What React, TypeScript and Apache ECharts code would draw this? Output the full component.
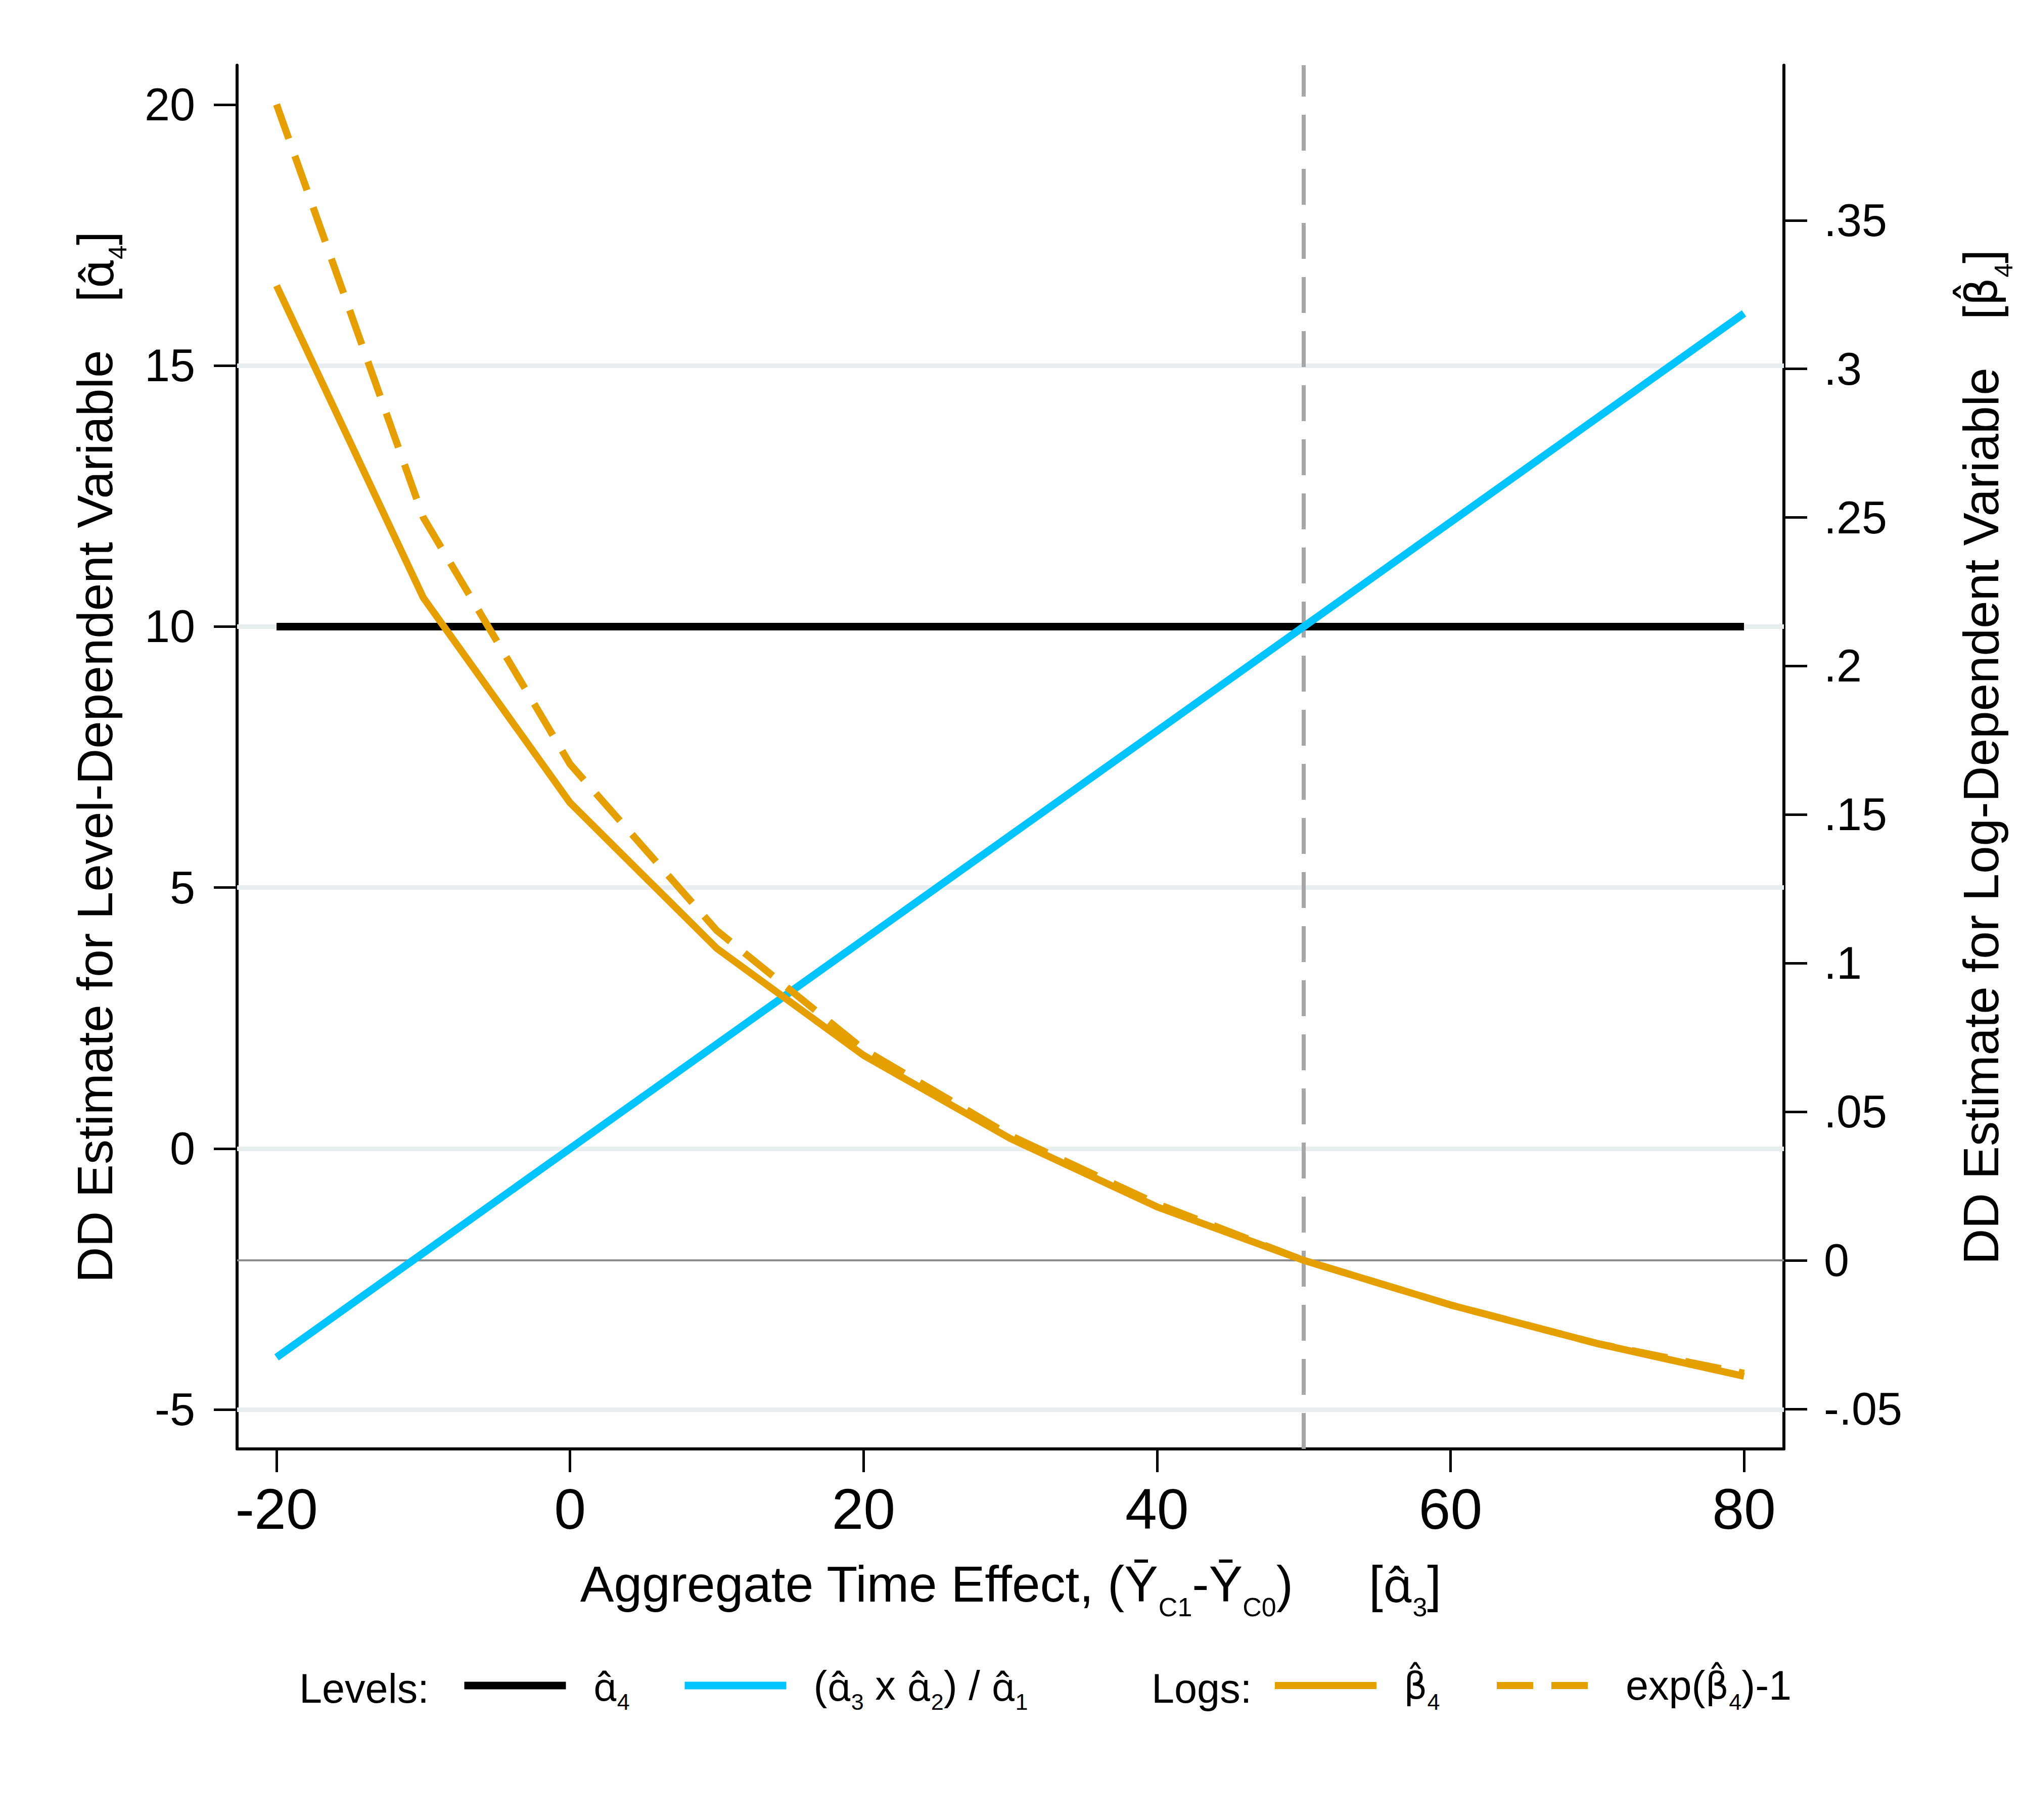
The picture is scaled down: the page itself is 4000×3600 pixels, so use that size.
import React, { useEffect, useRef } from 'react';
import * as echarts from 'echarts';

// ---------------- data ----------------
const xValues = [-20, -10, 0, 10, 20, 30, 40, 50, 60, 70, 80];
const levelsAlpha4 = [10, 10, 10, 10, 10, 10, 10, 10, 10, 10, 10];
const levelsRatio = [-4, -2, 0, 2, 4, 6, 8, 10, 12, 14, 16];
const logsBeta4 = [0.328, 0.223, 0.154, 0.105, 0.069, 0.041, 0.018, 0, -0.015, -0.028, -0.039];
const logsExpBeta4 = [0.389, 0.25, 0.167, 0.111, 0.071, 0.042, 0.019, 0, -0.015, -0.028, -0.038];

const xTicks = [-20, 0, 20, 40, 60, 80];
const leftTicks = [-5, 0, 5, 10, 15, 20];
const leftGridLines = [-5, 0, 5, 10, 15];
const rightTicks = [-0.05, 0, 0.05, 0.1, 0.15, 0.2, 0.25, 0.3, 0.35];
const referenceX = 50;
const referenceRight = 0;

const NAME_A4 = 'α̂4';
const NAME_RATIO = '(α̂3 x α̂2) / α̂1';
const NAME_B4 = 'β̂4';
const NAME_EXP = 'exp(β̂4)-1';

const FONT = '"Liberation Sans", Arial, Helvetica, sans-serif';
const HAT_FONT = '"Noto Sans", "DejaVu Sans", sans-serif';
const BETA_FONT = '"DejaVu Sans", "Noto Sans", sans-serif';
const NB = '\u00A0';
const A_HAT = 'α\u0302';
const B_HAT = 'β\u0302';

const titleRich = (main: number, sub: number, pad: number, gap: number) => ({
  m: { fontSize: main, lineHeight: 100, color: '#000', fontFamily: FONT },
  h: { fontSize: Math.round(main * 0.94), lineHeight: 100, color: '#000', fontFamily: HAT_FONT },
  d: { fontSize: Math.round(main * 0.9), lineHeight: 100, color: '#000', fontFamily: BETA_FONT },
  s: { fontSize: sub, lineHeight: 8, verticalAlign: 'top', padding: [pad, 0, 0, 0], color: '#000', fontFamily: FONT },
  g: { width: gap, fontSize: main, lineHeight: 100, fontFamily: FONT },
});

const xName = `{m|Aggregate Time Effect, (Ȳ}{s|C1}{m|-Ȳ}{s|C0}{m|)}{g|${NB}}{m|[}{h|${A_HAT}}{s|3}{m|]}`;
const leftName = `{m|DD Estimate for Level-Dependent Variable}{g|${NB}}{m|[}{h|${A_HAT}}{s|4}{m|]}`;
const rightName = `{m|DD Estimate for Log-Dependent Variable}{g|${NB}}{m|[}{d|${B_HAT}}{s|4}{m|]}`;

const legendText: Record<string, string> = {
  [NAME_A4]: `{g|${NB}}{h|${A_HAT}}{s|4}`,
  [NAME_RATIO]: `{g|${NB}}{m|(}{h|${A_HAT}}{s|3}{m| x }{h|${A_HAT}}{s|2}{m|) / }{h|${A_HAT}}{s|1}`,
  [NAME_B4]: `{g|${NB}}{d|${B_HAT}}{s|4}`,
  [NAME_EXP]: `{g|${NB}}{m|exp(}{d|${B_HAT}}{s|4}{m|)-1}`,
};

const legendRich = {
  m: { fontSize: 81, lineHeight: 100, color: '#000', fontFamily: FONT },
  h: { fontSize: 76, lineHeight: 100, color: '#000', fontFamily: HAT_FONT },
  d: { fontSize: 73, lineHeight: 100, color: '#000', fontFamily: BETA_FONT },
  s: { fontSize: 45, lineHeight: 8, verticalAlign: 'top', padding: [60, 0, 0, 0], color: '#000', fontFamily: FONT },
  g: { width: 49, fontSize: 81, lineHeight: 100, fontFamily: FONT },
};

const fmtRight = (v: number) => {
  if (Math.abs(v) < 1e-9) return '0';
  const s = Math.abs(v).toFixed(2).replace(/0+$/, '').replace(/^0/, '');
  return (v < 0 ? '-' : '') + s;
};

const pairs = (ys: number[]) => xValues.map((x, i) => [x, ys[i]]);

const makeLegend = (name: string, left: number) => ({
  data: [name],
  left,
  top: 3284,
  padding: 0,
  orient: 'horizontal',
  itemWidth: 201,
  itemHeight: 100,
  selectedMode: false,
  formatter: (n: string) => legendText[n] ?? n,
  itemStyle: { color: 'rgba(0,0,0,0)', borderWidth: 0, borderColor: 'rgba(0,0,0,0)' },
  lineStyle: { width: 'inherit', type: 'inherit', color: 'inherit' },
  textStyle: { color: '#000', fontSize: 81, lineHeight: 100, fontFamily: FONT, rich: legendRich },
});

const buildOption = () => ({
  animation: false,
  backgroundColor: '#ffffff',
  textStyle: { fontFamily: FONT },
  grid: { left: 469, right: 471, top: 129, bottom: 734, containLabel: false, outerBoundsMode: 'none' },
  legend: [
    makeLegend(NAME_A4, 911),
    makeLegend(NAME_RATIO, 1347),
    makeLegend(NAME_B4, 2515),
    makeLegend(NAME_EXP, 2954),
  ],
  graphic: [
    { type: 'text', x: 592, y: 3340, silent: true, style: { text: 'Levels:', fontSize: 81, fontFamily: FONT, fill: '#000', align: 'left', verticalAlign: 'middle' } },
    { type: 'text', x: 2278, y: 3340, silent: true, style: { text: 'Logs:', fontSize: 81, fontFamily: FONT, fill: '#000', align: 'left', verticalAlign: 'middle' } },
  ],
  xAxis: {
    type: 'value',
    min: -22.69,
    max: 82.72,
    name: xName,
    nameLocation: 'middle',
    nameGap: 217,
    nameTextStyle: { fontSize: 100, lineHeight: 100, color: '#000', fontFamily: FONT, rich: titleRich(100, 52, 70, 150) },
    axisLine: { show: true, onZero: false, lineStyle: { color: '#000', width: 6 } },
    axisTick: { show: true, length: 46, customValues: xTicks, lineStyle: { color: '#000', width: 5 } },
    axisLabel: { show: true, customValues: xTicks, fontSize: 113, margin: 62, color: '#000', fontFamily: FONT, formatter: (v: number) => String(v) },
    splitLine: { show: false },
  },
  yAxis: [
    {
      type: 'value',
      position: 'left',
      min: -5.755,
      max: 20.755,
      name: leftName,
      nameLocation: 'middle',
      nameGap: 231,
      nameTextStyle: { fontSize: 98, lineHeight: 100, color: '#000', fontFamily: FONT, rich: titleRich(98, 50, 70, 95) },
      axisLine: { show: true, onZero: false, lineStyle: { color: '#000', width: 6 } },
      axisTick: { show: true, length: 46, customValues: leftTicks, lineStyle: { color: '#000', width: 5 } },
      axisLabel: { show: true, customValues: leftTicks, fontSize: 90, margin: 83, color: '#000', fontFamily: FONT, formatter: (v: number) => String(v) },
      splitLine: { show: false },
    },
    {
      type: 'value',
      position: 'right',
      min: -0.06346,
      max: 0.4022,
      name: rightName,
      nameLocation: 'middle',
      nameGap: 340,
      nameTextStyle: { fontSize: 98, lineHeight: 100, color: '#000', fontFamily: FONT, rich: titleRich(98, 50, 70, 95) },
      axisLine: { show: true, onZero: false, lineStyle: { color: '#000', width: 6 } },
      axisTick: { show: true, length: 46, customValues: rightTicks, lineStyle: { color: '#000', width: 5 } },
      axisLabel: { show: true, customValues: rightTicks, fontSize: 90, margin: 79, color: '#000', fontFamily: FONT, formatter: fmtRight },
      splitLine: { show: false },
    },
  ],
  series: [
    {
      name: 'gridlines',
      type: 'line',
      yAxisIndex: 0,
      data: [],
      silent: true,
      z: 1,
      markLine: {
        z: 1,
        silent: true,
        symbol: ['none', 'none'],
        label: { show: false },
        lineStyle: { color: '#E9EFF1', width: 9, type: 'solid' },
        data: leftGridLines.map((v) => ({ yAxis: v })),
      },
    },
    {
      name: 'reflines',
      type: 'line',
      yAxisIndex: 1,
      data: [],
      silent: true,
      z: 1,
      markLine: {
        z: 1,
        silent: true,
        symbol: ['none', 'none'],
        label: { show: false },
        data: [
          { yAxis: referenceRight, lineStyle: { color: '#8C8C8C', width: 4, type: 'solid' } },
          { xAxis: referenceX, lineStyle: { color: '#A6A6A6', width: 8, type: [71, 36] } },
        ],
      },
    },
    {
      name: NAME_A4,
      type: 'line',
      yAxisIndex: 0,
      z: 3,
      symbol: 'none',
      data: pairs(levelsAlpha4),
      lineStyle: { color: '#000000', width: 15 },
      itemStyle: { color: '#000000' },
    },
    {
      name: NAME_RATIO,
      type: 'line',
      yAxisIndex: 0,
      z: 4,
      symbol: 'none',
      data: pairs(levelsRatio),
      lineStyle: { color: '#00C4FF', width: 15 },
      itemStyle: { color: '#00C4FF' },
    },
    {
      name: NAME_B4,
      type: 'line',
      yAxisIndex: 1,
      z: 5,
      symbol: 'none',
      data: pairs(logsBeta4),
      lineStyle: { color: '#E69F00', width: 14 },
      itemStyle: { color: '#E69F00' },
    },
    {
      name: NAME_EXP,
      type: 'line',
      yAxisIndex: 1,
      z: 6,
      symbol: 'none',
      data: pairs(logsExpBeta4),
      lineStyle: { color: '#E69F00', width: 14, type: [72, 36] },
      itemStyle: { color: '#E69F00' },
    },
  ],
});

export default function App() {
  const ref = useRef<HTMLDivElement>(null);
  useEffect(() => {
    if (!ref.current) return;
    const chart = echarts.init(ref.current, null, { renderer: 'svg', width: 4000, height: 3600 });
    chart.setOption(buildOption() as any);
    return () => chart.dispose();
  }, []);
  return (
    <div
      ref={ref}
      style={{ position: 'absolute', left: 0, top: 0, width: 4000, height: 3600, background: '#fff' }}
    />
  );
}
